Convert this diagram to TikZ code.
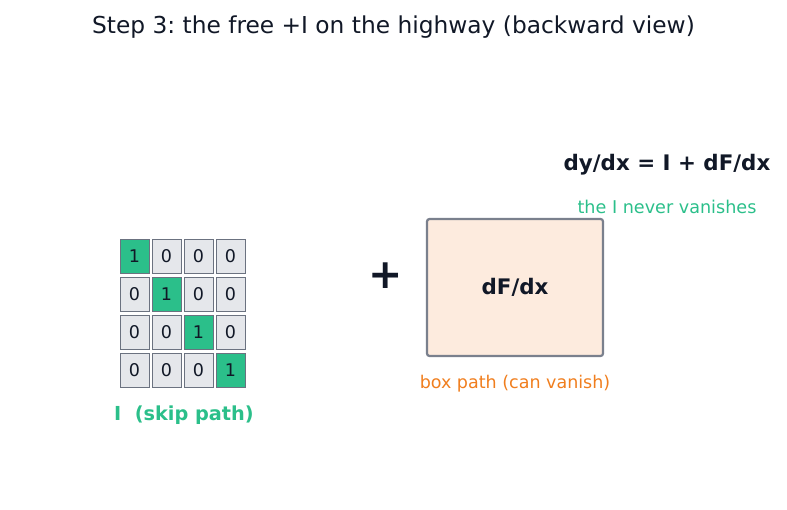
\documentclass[tikz,border=0pt]{standalone}
\usepackage{fontspec}
\setmainfont{DejaVu Sans}
\frenchspacing
\definecolor{inkdark}{HTML}{111827}
\definecolor{skipgreen}{HTML}{2BBF8A}
\definecolor{cellgray}{HTML}{E5E7EB}
\definecolor{edgegray}{HTML}{6B7280}
\definecolor{boxfill}{HTML}{FDEBDE}
\definecolor{pathorange}{HTML}{F07E1E}
\tikzset{
  cellbox/.style={draw=edgegray, line width=0.6pt, fill=cellgray, minimum width=29pt, minimum height=34pt, inner sep=0pt, text=inkdark, font=\fontsize{17.5}{20}\selectfont},
  hotcell/.style={cellbox, fill=skipgreen}
}
\begin{document}
\begin{tikzpicture}[x=1pt, y=-1pt]
	\useasboundingbox (0,0) rectangle (787,510);
	
	% Title
	\node[text=inkdark, font=\fontsize{23.3}{27}\selectfont] (title) at (393.5,27) {Step 3: the free +I on the highway (backward view)};
	
	% Identity matrix
	\begin{scope}[shift={(134.5,256)}]
		\foreach \r in {0,...,3}{
			\foreach \c in {0,...,3}{
				\ifnum\r=\c
					\node[hotcell] (cell-\r-\c) at (32*\c,38*\r) {1};
				\else
					\node[cellbox] (cell-\r-\c) at (32*\c,38*\r) {0};
				\fi
			}
		}
	\end{scope}
	\node[text=skipgreen, font=\fontsize{19.3}{22}\selectfont\bfseries] (skiplabel) at (184,415) {I\ \ (skip path)};
	
	% Plus sign
	\node[text=inkdark, font=\fontsize{41}{45}\selectfont\bfseries] (plus) at (386,276) {+};
	
	% Box path
	\node[draw=edgegray!90, line width=2.2pt, fill=boxfill, rounded corners=2.5pt, minimum width=176pt, minimum height=137pt, text=inkdark, font=\fontsize{21.4}{24}\selectfont\bfseries] (box) at (515,287.5) {dF/dx};
	\node[text=pathorange, font=\fontsize{17.5}{20}\selectfont] (boxlabel) at (515,384) {box path (can vanish)};
	
	% Formula
	\node[text=inkdark, font=\fontsize{21.4}{24}\selectfont\bfseries] (formula) at (667,165) {dy/dx = I + dF/dx};
	\node[text=skipgreen, font=\fontsize{17.6}{20}\selectfont] (note) at (667,207) {the I never vanishes};
	
\end{tikzpicture}
\end{document}
